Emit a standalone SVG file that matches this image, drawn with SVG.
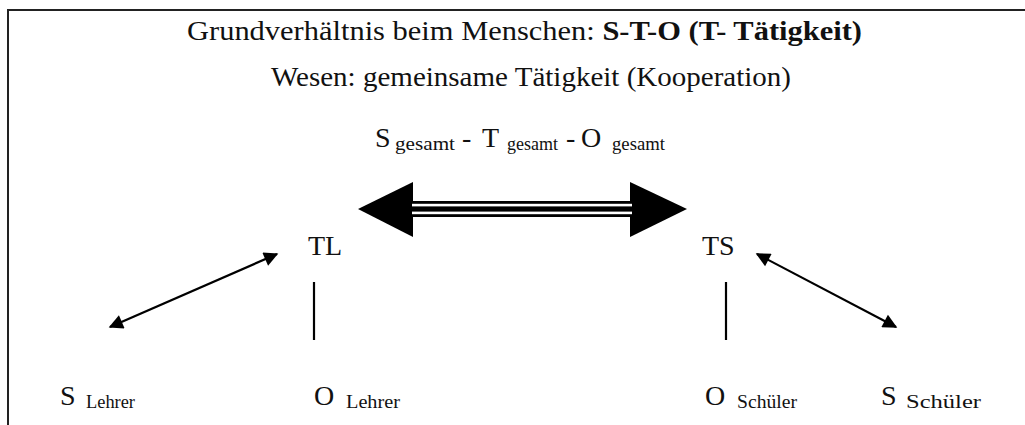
<svg xmlns="http://www.w3.org/2000/svg" width="1025" height="425" viewBox="0 0 1025 425" font-family="Liberation Serif, DejaVu Serif, serif">
<style>
text{fill:#111}
.big{font-size:28px}
.sub{font-size:18px}
.thin{stroke:#000;stroke-width:2.2;fill:none}
</style>
<defs>
<marker id="ah" viewBox="0 0 10 10" refX="9" refY="5" markerWidth="7.5" markerHeight="6.5" orient="auto-start-reverse" markerUnits="strokeWidth">
<path d="M0,0 L10,5 L0,10 Z" fill="#000"/>
</marker>
</defs>
<rect width="1025" height="425" fill="#fff"/>
<g id="frame">
<path d="M8,425 V10 H1025" fill="none" stroke="#222" stroke-width="2"/>
</g>
<g id="title">
<text x="187" y="40" font-size="28" textLength="675" lengthAdjust="spacingAndGlyphs">Grundverhältnis beim Menschen: <tspan font-weight="bold">S-T-O (T- Tätigkeit)</tspan></text>
<text x="271" y="86" font-size="28" textLength="520" lengthAdjust="spacingAndGlyphs">Wesen: gemeinsame Tätigkeit (Kooperation)</text>
</g>
<g id="gesamt">
<text class="big" x="375" y="147">S</text>
<text class="sub" x="395" y="150" textLength="60" lengthAdjust="spacingAndGlyphs">gesamt</text>
<text class="big" x="462" y="147">-</text>
<text class="big" x="482" y="147">T</text>
<text class="sub" x="507" y="150" textLength="51" lengthAdjust="spacingAndGlyphs">gesamt</text>
<text class="big" x="566" y="147">-</text>
<text class="big" x="581" y="147">O</text>
<text class="sub" x="612" y="150" textLength="53" lengthAdjust="spacingAndGlyphs">gesamt</text>
</g>
<g id="TL"><text class="big" x="308" y="255">TL</text></g>
<g id="TS"><text class="big" x="702" y="255">TS</text></g>
<g id="SLehrer"><text class="big" x="60" y="405">S</text><text class="sub" x="86" y="408" textLength="49" lengthAdjust="spacingAndGlyphs">Lehrer</text></g>
<g id="OLehrer"><text class="big" x="314" y="405">O</text><text class="sub" x="346" y="408" textLength="54" lengthAdjust="spacingAndGlyphs">Lehrer</text></g>
<g id="OSchueler"><text class="big" x="705" y="405">O</text><text class="sub" x="737" y="408" textLength="60" lengthAdjust="spacingAndGlyphs">Schüler</text></g>
<g id="SSchueler"><text class="big" x="881" y="405">S</text><text class="sub" x="906" y="408" textLength="75" lengthAdjust="spacingAndGlyphs">Schüler</text></g>
<g id="connectors">
<path d="M358,209 L413,182 L413,237 Z" fill="#000"/>
<path d="M687,209 L630,182 L630,237 Z" fill="#000"/>
<rect x="412" y="201" width="220" height="16" fill="#000"/>
<rect x="412" y="203.8" width="220" height="2.6" fill="#fff"/>
<rect x="412" y="211.6" width="220" height="2.6" fill="#fff"/>
<line class="thin" x1="314" y1="282" x2="314" y2="340" stroke-width="3"/>
<line class="thin" x1="726" y1="282" x2="726" y2="340" stroke-width="3"/>
<line class="thin" x1="110" y1="327" x2="277" y2="254" marker-start="url(#ah)" marker-end="url(#ah)"/>
<line class="thin" x1="757" y1="254" x2="896" y2="327" marker-start="url(#ah)" marker-end="url(#ah)"/>
</g>
</svg>
